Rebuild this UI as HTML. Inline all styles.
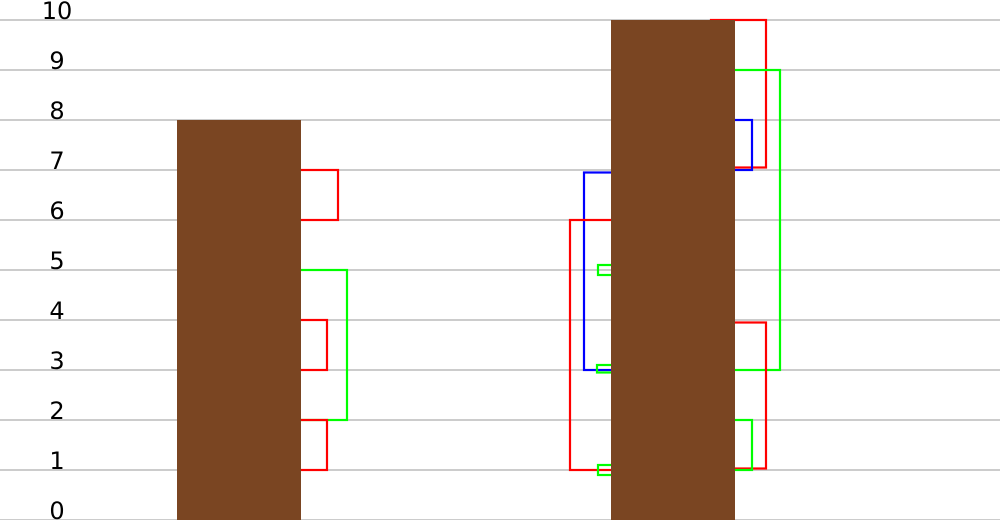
<!DOCTYPE html>
<html><head><meta charset="utf-8"><style>
html,body{margin:0;padding:0;background:#fff;}
svg{display:block;}
text{font-family:"DejaVu Sans","Liberation Sans",sans-serif;font-size:24px;fill:#000;}
</style></head><body>
<svg id="chart" width="1000" height="520"></svg>
<script>
const yTicks = [0,1,2,3,4,5,6,7,8,9,10];
const barCategories = ["group-a","group-b"];
const barValues = [8, 10];
// brackets: bar index, side, low value, high value, depth beyond bar edge (px), color
const bracketBar = [0,0,0,0, 1,1,1,1,1, 1,1,1,1,1];
const bracketSide = ["r","r","r","r", "r","r","r","r","r", "l","l","l","l","l"];
const bracketLo = [6,2,3,1, 7.05,7,3,1.03,1, 3,1,4.9,2.95,0.9];
const bracketHi = [7,5,4,2, 10,8,9,3.95,2, 6.95,6,5.1,3.1,1.1];
const bracketDepth = [37,46,26,26, 31,17,45,31,17, 27,41,13,14,13];
const bracketColor = ["#f00","#0f0","#f00","#f00", "#f00","#00f","#0f0","#f00","#0f0", "#00f","#f00","#0f0","#0f0","#0f0"];

const NS="http://www.w3.org/2000/svg";
const svg=document.getElementById('chart');
const y=v=>520-v*50;
const barX=i=>177+i*434;
const barW=124;
function mk(t,a){const e=document.createElementNS(NS,t);for(const k in a)e.setAttribute(k,a[k]);svg.appendChild(e);return e;}

yTicks.forEach(t=>{
  const l=mk('line',{x1:0,x2:1000,y1:y(t),y2:y(t),stroke:'#ccc','stroke-width':2});
  
  
  const tx=mk('text',{x:57,y:y(t)-1,'text-anchor':'middle'});
  tx.textContent=t;
  
  
});

bracketBar.forEach((b,i)=>{
  const x0=barX(b), x1=x0+barW;
  let xa,xb;
  if(bracketSide[i]==='r'){xa=(bracketHi[i]>=10?x0+100:x0+50);xb=x1+bracketDepth[i];}
  else{xa=x0-bracketDepth[i];xb=x0+50;}
  const r=mk('rect',{x:xa,y:y(bracketHi[i]),width:xb-xa,height:y(bracketLo[i])-y(bracketHi[i]),fill:'none',stroke:bracketColor[i],'stroke-width':2.2});
  
  
});

barValues.forEach((v,i)=>{
  const r=mk('rect',{x:barX(i),y:y(v),width:barW,height:y(0)-y(v),fill:'#7a4522'});
  
  
});
</script>
</body></html>
